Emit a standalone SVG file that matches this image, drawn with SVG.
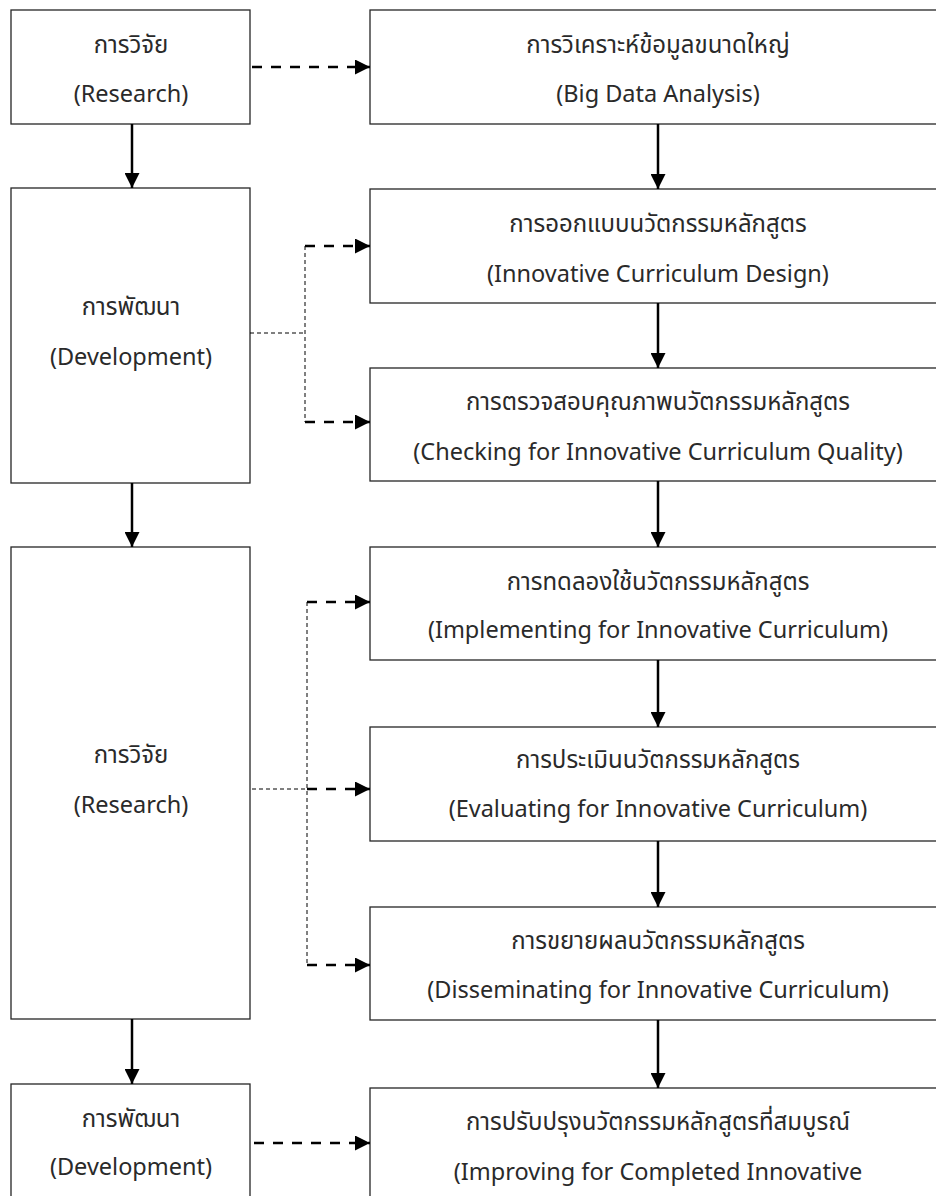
<svg xmlns="http://www.w3.org/2000/svg" width="936" height="1196" viewBox="0 0 936 1196">
<style>
  .box { fill: #ffffff; stroke: #262626; stroke-width: 1.3; }
  .t { font-family: "Noto Sans Thai", "Noto Sans", "DejaVu Sans", sans-serif; font-size: 23.5px; fill: #2a2a2a; text-anchor: middle; }
  .th { font-size: 24px; }
  .solid { stroke: #000; stroke-width: 2.5; fill: none; }
  .dash { stroke: #000; stroke-width: 2.5; fill: none; stroke-dasharray: 10 9; }
  .thin { stroke: #000; stroke-width: 1; fill: none; stroke-dasharray: 4 3; }
</style>
<defs>
  <marker id="ah" markerUnits="userSpaceOnUse" markerWidth="15" markerHeight="15" refX="15" refY="7.5" orient="auto">
    <path d="M0,0 L15,7.5 L0,15 Z" fill="#000"/>
  </marker>
</defs>
<rect width="936" height="1196" fill="#ffffff"/>

<g id="L1"><rect class="box" x="11" y="10" width="239" height="114"/>
  <text class="t th" x="131" y="53">การวิจัย</text><text class="t" x="131" y="102">(Research)</text></g>
<g id="L2"><rect class="box" x="11" y="188" width="239" height="295"/>
  <text class="t th" x="131" y="315">การพัฒนา</text><text class="t" x="131" y="365">(Development)</text></g>
<g id="L3"><rect class="box" x="11" y="547" width="239" height="472"/>
  <text class="t th" x="131" y="763">การวิจัย</text><text class="t" x="131" y="813">(Research)</text></g>
<g id="L4"><rect class="box" x="11" y="1084" width="239" height="130"/>
  <text class="t th" x="131" y="1127">การพัฒนา</text><text class="t" x="131" y="1175">(Development)</text></g>

<g id="R1"><rect class="box" x="370" y="10" width="576" height="114"/>
  <text class="t th" x="658" y="53">การวิเคราะห์ข้อมูลขนาดใหญ่</text><text class="t" x="658" y="102">(Big Data Analysis)</text></g>
<g id="R2"><rect class="box" x="370" y="189" width="576" height="114"/>
  <text class="t th" x="658" y="232">การออกแบบนวัตกรรมหลักสูตร</text><text class="t" x="658" y="282">(Innovative Curriculum Design)</text></g>
<g id="R3"><rect class="box" x="370" y="368" width="576" height="113"/>
  <text class="t th" x="658" y="410">การตรวจสอบคุณภาพนวัตกรรมหลักสูตร</text><text class="t" x="658" y="460">(Checking for Innovative Curriculum Quality)</text></g>
<g id="R4"><rect class="box" x="370" y="547" width="576" height="113"/>
  <text class="t th" x="658" y="590">การทดลองใช้นวัตกรรมหลักสูตร</text><text class="t" x="658" y="638">(Implementing for Innovative Curriculum)</text></g>
<g id="R5"><rect class="box" x="370" y="727" width="576" height="114"/>
  <text class="t th" x="658" y="768">การประเมินนวัตกรรมหลักสูตร</text><text class="t" x="658" y="817">(Evaluating for Innovative Curriculum)</text></g>
<g id="R6"><rect class="box" x="370" y="907" width="576" height="113"/>
  <text class="t th" x="658" y="949">การขยายผลนวัตกรรมหลักสูตร</text><text class="t" x="658" y="998">(Disseminating for Innovative Curriculum)</text></g>
<g id="R7"><rect class="box" x="370" y="1088" width="576" height="130"/>
  <text class="t th" x="658" y="1130">การปรับปรุงนวัตกรรมหลักสูตรที่สมบูรณ์</text><text class="t" x="658" y="1180">(Improving for Completed Innovative</text></g>

<g id="connectors">
  <line class="solid" x1="132" y1="124" x2="132" y2="188" marker-end="url(#ah)"/>
  <line class="solid" x1="132" y1="483" x2="132" y2="547" marker-end="url(#ah)"/>
  <line class="solid" x1="132" y1="1019" x2="132" y2="1084" marker-end="url(#ah)"/>
  <line class="solid" x1="658" y1="124" x2="658" y2="189" marker-end="url(#ah)"/>
  <line class="solid" x1="658" y1="303" x2="658" y2="368" marker-end="url(#ah)"/>
  <line class="solid" x1="658" y1="481" x2="658" y2="547" marker-end="url(#ah)"/>
  <line class="solid" x1="658" y1="660" x2="658" y2="727" marker-end="url(#ah)"/>
  <line class="solid" x1="658" y1="841" x2="658" y2="907" marker-end="url(#ah)"/>
  <line class="solid" x1="658" y1="1020" x2="658" y2="1088" marker-end="url(#ah)"/>

  <line class="dash" x1="252" y1="67" x2="370" y2="67" marker-end="url(#ah)"/>
  <line class="dash" x1="305" y1="246" x2="370" y2="246" marker-end="url(#ah)"/>
  <line class="dash" x1="305" y1="422" x2="370" y2="422" marker-end="url(#ah)"/>
  <line class="dash" x1="307" y1="602" x2="370" y2="602" marker-end="url(#ah)"/>
  <line class="dash" x1="307" y1="789" x2="370" y2="789" marker-end="url(#ah)"/>
  <line class="dash" x1="307" y1="965" x2="370" y2="965" marker-end="url(#ah)"/>
  <line class="dash" x1="254" y1="1143" x2="370" y2="1143" marker-end="url(#ah)"/>

  <line class="thin" x1="250" y1="333" x2="305" y2="333"/>
  <line class="thin" x1="305" y1="246" x2="305" y2="422"/>
  <line class="thin" x1="252" y1="789" x2="307" y2="789"/>
  <line class="thin" x1="307" y1="602" x2="307" y2="965"/>
</g>
</svg>
